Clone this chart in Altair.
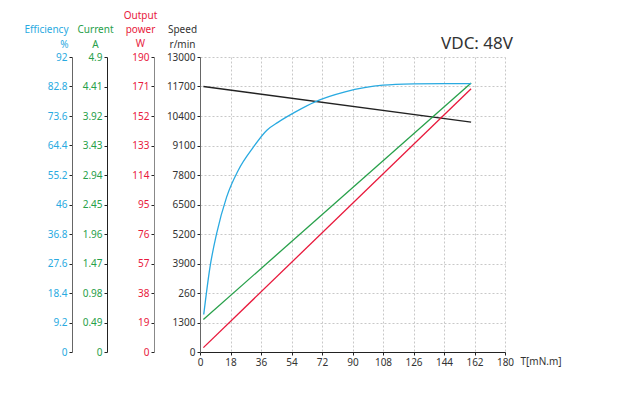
import altair as alt
import pandas as pd

FONT = "Noto Sans"
BLUE = "#29aae1"
GREEN = "#27a04a"
RED = "#e8193c"
DARK = "#333333"

# ---- tick values / labels ----
x_ticks = [0, 18, 36, 54, 72, 90, 108, 126, 144, 162, 180]
speed_ticks = [0, 1300, 2600, 3900, 5200, 6500, 7800, 9100, 10400, 11700, 13000]
speed_tick_labels = ["0", "1300", "260", "3900", "5200", "6500", "7800", "9100", "10400", "11700", "13000"]
power_ticks = [0, 19, 38, 57, 76, 95, 114, 133, 152, 171, 190]
current_ticks = [0, 0.49, 0.98, 1.47, 1.96, 2.45, 2.94, 3.43, 3.92, 4.41, 4.9]
eff_ticks = [0, 9.2, 18.4, 27.6, 36.8, 46, 55.2, 64.4, 73.6, 82.8, 92]

# ---- series ----
speed_T = [2, 160]
speed_val = [11700, 10130]

current_T = [2, 160]
current_val = [0.54, 4.47]

power_T = [2, 160]
power_val = [2.8, 169.6]

eff_T = [2.2, 5.9, 9.8, 15.7, 22.6, 31.5, 39.3, 46.2, 56.1, 67.9, 85.6, 108, 126, 144, 160]
eff_val = [11.7, 26.5, 36.9, 48.3, 56.7, 63.9, 69.1, 71.7, 74.8, 78.0, 81.1, 83.2, 83.6, 83.7, 83.7]

label_map = " : ".join(
    f"datum.value == {v} ? '{l}'" for v, l in zip(speed_ticks, speed_tick_labels)
) + " : datum.label"

xenc = alt.X(
    "T:Q",
    scale=alt.Scale(domain=[0, 180], nice=False, zero=True),
    axis=alt.Axis(
        values=x_ticks, title="T[mN.m]", titleX=320, titleY=12.5, titleAlign="left",
        titleBaseline="alphabetic", titleFont=FONT, titleFontSize=10, titleFontWeight="normal",
        titleColor=DARK, grid=True, gridDash=[2, 2], gridColor="#c8c8c8", domainColor="#222222",
        tickColor="#222222", tickSize=3, labelPadding=2, labelFont=FONT, labelFontSize=10,
        labelColor=DARK, labelFlush=False,
    ),
)


def yaxis(ticks, title, color, offset, title_x, align, title_y, line_h, domain_color,
          fmt=None, label_expr=None, grid=False):
    kw = dict(
        orient="left", offset=offset, values=ticks, title=title, titleAngle=0,
        titleX=title_x, titleY=title_y, titleAlign=align, titleBaseline="alphabetic",
        titleLineHeight=line_h, titleFont=FONT, titleFontSize=10, titleFontWeight="normal",
        titleColor=color, labelColor=color, labelFont=FONT, labelFontSize=10,
        tickSize=3, labelPadding=2, tickColor="#222222", domainColor=domain_color,
        grid=grid,
    )
    if grid:
        kw.update(gridDash=[2, 2], gridColor="#c8c8c8")
    if fmt:
        kw["format"] = fmt
    if label_expr:
        kw["labelExpr"] = label_expr
    return alt.Axis(**kw)


def layer(T, V, field, dmax, color, axis, interp="linear"):
    df = pd.DataFrame({"T": T, field: V})
    return alt.Chart(df).mark_line(color=color, strokeWidth=1.3, interpolate=interp).encode(
        x=xenc,
        y=alt.Y(f"{field}:Q", scale=alt.Scale(domain=[0, dmax], nice=False, zero=True), axis=axis),
    )


speed = layer(speed_T, speed_val, "speed", 13000, "#222222",
              yaxis(speed_ticks, ["Speed", "r/min"], DARK, 0, -18, "center", -25, 15, "#666666",
                    label_expr=label_map, grid=True))
power = layer(power_T, power_val, "power", 190, RED,
              yaxis(power_ticks, ["Output", "power", "W"], RED, 46, -14, "center", -39, 14, "#888888",
                    fmt="d"))
current = layer(current_T, current_val, "current", 4.9, GREEN,
                yaxis(current_ticks, ["Current", "A"], GREEN, 93, -12, "center", -25, 15, "#222222",
                      fmt=".2~f"))
eff = layer(eff_T, eff_val, "eff", 92, BLUE,
            yaxis(eff_ticks, ["Efficiency", "%"], BLUE, 128, -4, "right", -25, 15, "#666666",
                  fmt=".1~f"), interp="monotone")

chart = (
    alt.layer(speed, power, current, eff)
    .resolve_scale(y="independent")
    .properties(
        width=305, height=295,
        padding={"left": 192, "top": 49, "right": 117, "bottom": 45},
        autosize=alt.AutoSizeParams(type="none"),
        title=alt.TitleParams(
            "VDC: 48V", anchor="end", fontSize=17, fontWeight="normal", color=DARK,
            font=FONT, offset=7, dx=8, dy=63, baseline="alphabetic", frame="group",
        ),
    )
    .configure_view(stroke=None)
)

chart.save("out.html", embed_options={"renderer": "svg", "actions": False})
